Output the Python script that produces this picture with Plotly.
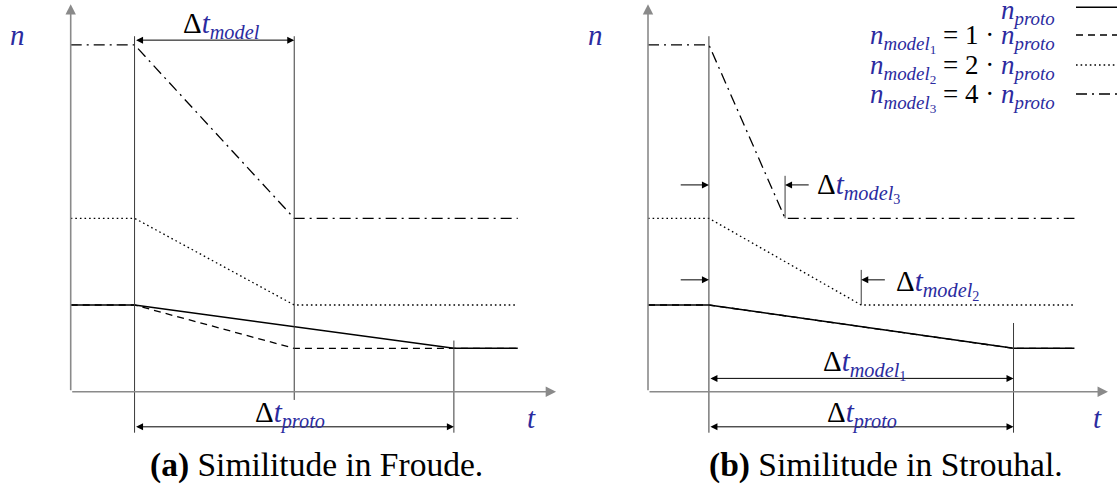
import plotly.graph_objects as go

# ---------------------------------------------------------------------------
# Data: rotational speed n versus time t, prototype and three models
# ---------------------------------------------------------------------------
series = ["proto", "model1", "model2", "model3"]
n_before = [2, 2, 4, 8]          # speed level before the manoeuvre
n_after = [1, 1, 2, 4]           # speed level after the manoeuvre
dt_froude = [4, 2, 2, 2]         # duration of the ramp, Froude similitude
dt_strouhal = [4, 4, 2, 1]       # duration of the ramp, Strouhal similitude
t_switch = 0.8                   # start of the manoeuvre
t_end = 5.6                      # end of the drawn curves

legend_labels = [
    "n_proto",
    "n_model1 = 1 · n_proto",
    "n_model2 = 2 · n_proto",
    "n_model3 = 4 · n_proto",
]
captions = ["(a) Similitude in Froude.", "(b) Similitude in Strouhal."]

# ---------------------------------------------------------------------------
# Styles
# ---------------------------------------------------------------------------
W, H = 1117, 489
BLUE = "#2b2ba0"
AXIS_GREY = "#8a8a8a"
GUIDE = "#3a3a3a"
FONT = "Liberation Serif"
MATH_SIZE = 29
LEGEND_SIZE = 27
dash_styles = ["solid", "7px,5px", "1.6px,3px", "11px,5px,2px,5px"]
line_widths = [1.5, 1.3, 1.3, 1.3]


def px_x(p):
    return p / W


def px_y(p):
    return 1 - p / H


def blue(s):
    return f"<span style='color:{BLUE}'>{s}</span>"


def sub_text(sub):
    # "model1" -> italic "model" with a smaller index 1
    base = sub.rstrip("0123456789")
    idx = sub[len(base):]
    out = f"<i>{base}</i>"
    if idx:
        out += f"<sub>{idx}</sub>"
    return out


def n_sym(sub):
    return blue(f"<i>n</i><sub>{sub_text(sub)}</sub>")


def dt_sym(sub):
    return "Δ" + blue(f"<i>t</i><sub>{sub_text(sub)}</sub>")


# panel geometry (pixels): origin of each panel and pixels per unit
panels = [
    dict(ox=70.7, ux=79.83, xr=6.1, dt=dt_froude, xa="x", ya="y", xend=6.08),
    dict(ox=648.0, ux=76.15, xr=6.1, dt=dt_strouhal, xa="x2", ya="y2", xend=6.04),
]
OY, UY = 391.7, 43.35
Y_LO, Y_HI = -1.2, 8.95

fig = go.Figure()

for p in panels:
    for i, key in enumerate(series):
        t_ramp_end = t_switch + p["dt"][i]
        fig.add_trace(go.Scatter(
            x=[0, t_switch, t_ramp_end, t_end],
            y=[n_before[i], n_before[i], n_after[i], n_after[i]],
            mode="lines",
            line=dict(color="black", width=line_widths[i], dash=dash_styles[i]),
            name=key, showlegend=False, hoverinfo="skip",
            xaxis=p["xa"], yaxis=p["ya"],
        ))

layout_axes = {}
for k, p in enumerate(panels):
    suffix = "" if k == 0 else "2"
    x0 = p["ox"]
    x1 = p["ox"] + p["xr"] * p["ux"]
    y_bot = OY - Y_LO * UY
    y_top = OY - Y_HI * UY
    layout_axes["xaxis" + suffix] = dict(
        range=[0, p["xr"]], domain=[px_x(x0), px_x(x1)],
        visible=False, anchor="y" + suffix, fixedrange=True)
    layout_axes["yaxis" + suffix] = dict(
        range=[Y_LO, Y_HI], domain=[px_y(y_bot), px_y(y_top)],
        visible=False, anchor="x" + suffix, fixedrange=True)

fig.update_layout(**layout_axes)

shapes = []
annotations = []


def vline(xa, ya, t, y0, y1):
    shapes.append(dict(type="line", xref=xa, yref=ya, x0=t, x1=t, y0=y0, y1=y1,
                       line=dict(color=GUIDE, width=1)))


def arrow(xa, ya, x_tail, y_tail, x_head, y_head, both=False, color="black",
          width=1.0, size=1.4):
    annotations.append(dict(
        xref=xa, yref=ya, axref=xa, ayref=ya,
        x=x_head, y=y_head, ax=x_tail, ay=y_tail, text="",
        showarrow=True, arrowhead=2, arrowsize=size, arrowwidth=width,
        arrowcolor=color, arrowside="end+start" if both else "end",
        standoff=0, startstandoff=0))


def label(text, xp, yp, xanchor="center", size=MATH_SIZE, color="black"):
    annotations.append(dict(
        xref="paper", yref="paper", x=px_x(xp), y=px_y(yp), text=text,
        showarrow=False, xanchor=xanchor, yanchor="middle",
        font=dict(family=FONT, size=size, color=color)))


# coordinate axes with arrow heads
for p in panels:
    arrow(p["xa"], p["ya"], 0, 0, p["xend"], 0,
          color=AXIS_GREY, width=1.6, size=1.3)
    arrow(p["xa"], p["ya"], 0, 0, 0, 8.94, color=AXIS_GREY, width=1.6, size=1.3)

# --- panel (a): Froude ------------------------------------------------------
t_model_a = t_switch + dt_froude[1]
t_proto_a = t_switch + dt_froude[0]
vline("x", "y", t_switch, -0.946, 8.2)
vline("x", "y", t_model_a, -0.19, 8.2)
vline("x", "y", t_proto_a, -0.946, 1.18)
arrow("x", "y", t_switch, 8.11, t_model_a, 8.11, both=True)
arrow("x", "y", t_switch, -0.81, t_proto_a, -0.81, both=True)

# --- panel (b): Strouhal ----------------------------------------------------
t_m1 = t_switch + dt_strouhal[1]
t_m2 = t_switch + dt_strouhal[2]
t_m3 = t_switch + dt_strouhal[3]
vline("x2", "y2", t_switch, -0.946, 8.2)
vline("x2", "y2", t_m1, -0.946, 1.585)
vline("x2", "y2", t_m3, n_after[3], 4.98)
vline("x2", "y2", t_m2, n_after[2], 2.81)
arrow("x2", "y2", 0.41, 4.77, t_switch, 4.77)
arrow("x2", "y2", 2.13, 4.77, t_m3, 4.77)
arrow("x2", "y2", 0.41, 2.58, t_switch, 2.58)
arrow("x2", "y2", 3.13, 2.58, t_m2, 2.58)
arrow("x2", "y2", t_switch, 0.307, t_m1, 0.307, both=True)
arrow("x2", "y2", t_switch, -0.81, t_m1, -0.81, both=True)

# --- text labels ------------------------------------------------------------
label(blue("<i>n</i>"), 17.5, 35)
label(blue("<i>n</i>"), 595, 35)
label(blue("<i>t</i>"), 531, 418)
label(blue("<i>t</i>"), 1097, 418)

label(dt_sym("model"), 221, 25)
label(dt_sym("proto"), 290, 414)
label(dt_sym("model1"), 865, 364)
label(dt_sym("proto"), 862, 414)
label(dt_sym("model3"), 815, 188, xanchor="left")
label(dt_sym("model2"), 894, 284, xanchor="left")

# legend: text on the left, line sample on the right
legend_rows_y = [12, 39, 68, 97]
legend_line_y = [7.3, 35, 65, 94]
for i, text in enumerate(legend_labels):
    if i == 0:
        html = n_sym("proto")
    else:
        factor = text.split("=")[1].split("·")[0].strip()
        html = n_sym(f"model{i}") + f" = {factor} · " + n_sym("proto")
    label(html, 1057, legend_rows_y[i], xanchor="right", size=LEGEND_SIZE)
    shapes.append(dict(type="line", xref="paper", yref="paper",
                       x0=px_x(1076), x1=px_x(1117),
                       y0=px_y(legend_line_y[i]), y1=px_y(legend_line_y[i]),
                       line=dict(color="black", width=line_widths[i],
                                 dash=dash_styles[i])))

# captions
for text, cx in zip(captions, [316.7, 886]):
    tag, rest = text.split(" ", 1)
    label(f"<b>{tag}</b> {rest}", cx, 465, size=33.5)

fig.update_layout(
    width=W, height=H, autosize=False,
    margin=dict(l=0, r=0, t=0, b=0, pad=0),
    paper_bgcolor="white", plot_bgcolor="white",
    shapes=shapes, annotations=annotations,
    showlegend=False,
)

fig.write_html("out.html", config={"displayModeBar": False})
